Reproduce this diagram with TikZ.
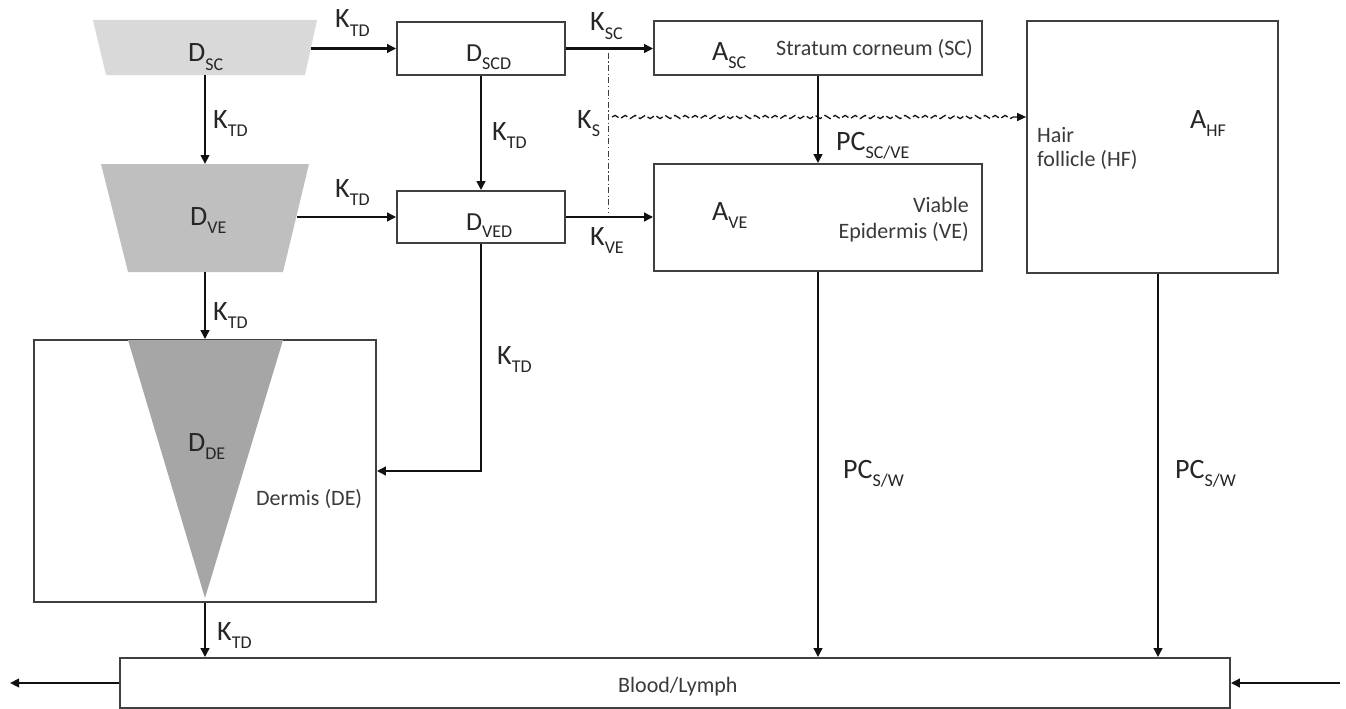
\documentclass[tikz,border=0pt]{standalone}
\usepackage{fontspec}
\setmainfont{Carlito}
\usetikzlibrary{arrows.meta,decorations.pathmorphing}
\definecolor{lc}{HTML}{111111}
\definecolor{bc}{HTML}{404040}
\definecolor{tc}{HTML}{262626}
\definecolor{sc}{HTML}{3A3A3A}
\definecolor{gA}{HTML}{D9D9D9}
\definecolor{gB}{HTML}{BFBFBF}
\definecolor{gC}{HTML}{A6A6A6}
\newcommand{\sbs}[1]{\raisebox{-0.3em}{\fontsize{18}{18}\selectfont #1}}
\newcommand{\fbig}{\fontsize{28}{30}\selectfont}
\newcommand{\fmid}{\fontsize{26}{28}\selectfont}
\newcommand{\fsml}{\fontsize{22}{27}\selectfont}
\tikzset{
  box/.style={draw=bc, line width=1.7pt, fill=white, inner sep=0pt},
  arr/.style={draw=lc, line width=2.4pt, -{Triangle[length=9pt,width=8.5pt]}},
  lbl/.style={anchor=base west, inner sep=0pt, text=tc, font=\fbig},
  lblm/.style={anchor=base west, inner sep=0pt, text=tc, font=\fmid},
  txt/.style={inner sep=0pt, text=sc, font=\fsml},
}
\begin{document}
\begin{tikzpicture}[x=1pt,y=-1pt]
\useasboundingbox[fill=white] (0,0) rectangle (1346,709);
% shaded compartments
\fill[gA] (93,20) -- (317,20) -- (305,75) -- (106,75) -- cycle;
\fill[gB] (101,164) -- (309,164) -- (283,272) -- (128,272) -- cycle;
% boxes
\node[box, minimum width=342pt, minimum height=262pt] (DE) at (205,471) {};
\fill[gC] (128,340) -- (283,340) -- (205,598) -- cycle;
\node[box, minimum width=168pt, minimum height=53pt] (SCD) at (481,48.5) {};
\node[box, minimum width=168pt, minimum height=52pt] (VED) at (481,217) {};
\node[box, minimum width=328pt, minimum height=54pt] (ASC) at (818,48) {};
\node[box, minimum width=328pt, minimum height=107pt] (AVE) at (818,217.5) {};
\node[box, minimum width=251pt, minimum height=252pt] (HF) at (1152.5,147) {};
\node[box, minimum width=1110pt, minimum height=50pt] (BL) at (675,683) {};
% anchor coordinates on shaded shapes
\coordinate (DSCr) at (311,48.5);
\coordinate (DSCb) at (205,75);
\coordinate (DVEt) at (205,164);
\coordinate (DVEr) at (297,217);
\coordinate (DVEb) at (205,272);
\coordinate (lout) at (10,683);
\coordinate (rin) at (1340,683);
\coordinate (dd1) at (608,53);
\coordinate (dd2) at (608,212);
\coordinate (ws) at (612,117);
% connectors
\draw[arr] (DSCr) -- (SCD.west);
\draw[arr] (DSCb) -- (DVEt);
\draw[arr] (DVEr) -- (VED.west);
\draw[arr] (DVEb) -- (DE.north);
\draw[arr] (DE.south) -- (DE.south |- BL.north);
\draw[arr] (SCD.south) -- (VED.north);
\draw[arr] (VED.south) -- (VED.south |- DE.east) -- (DE.east);
\draw[arr] (SCD.east) -- (ASC.west |- SCD.east);
\draw[arr] (VED.east) -- (AVE.west |- VED.east);
\draw[arr] (ASC.south) -- (AVE.north);
\draw[arr] (AVE.south) -- (AVE.south |- BL.north);
\draw[arr] ([xshift=5.5pt]HF.south) -- ([xshift=5.5pt]HF.south |- BL.north);
\draw[arr] (BL.west) -- (lout);
\draw[arr] (rin) -- (BL.east);
\draw[bc, line width=1pt, dash pattern=on 6pt off 2.5pt on 1.2pt off 2.5pt] (dd1) -- (dd2);
\draw[lc, line width=1.3pt, decorate, decoration={snake, segment length=10pt, amplitude=1.6pt, post length=8pt}, dash pattern=on 7.5pt off 3pt, -{Triangle[length=9pt,width=8pt]}] (ws) -- (ws -| HF.west);
% rate labels
\node[lbl] (k1) at (335,28) {K\sbs{TD}};
\node[lbl] (k2) at (213,128) {K\sbs{TD}};
\node[lbl] (k3) at (335,197) {K\sbs{TD}};
\node[lbl] (k4) at (213,320) {K\sbs{TD}};
\node[lbl] (k5) at (217,640) {K\sbs{TD}};
\node[lbl] (k6) at (492,140) {K\sbs{TD}};
\node[lbl] (k7) at (497,364) {K\sbs{TD}};
\node[lbl] (ksc) at (590,31) {K\sbs{SC}};
\node[lbl] (ks) at (577,128) {K\sbs{S}};
\node[lbl] (kve) at (590,245) {K\sbs{VE}};
\node[lbl] (pc1) at (836,150) {PC\sbs{SC/VE}};
\node[lbl] (pc2) at (843,478) {PC\sbs{S/W}};
\node[lbl] (pc3) at (1175,478) {PC\sbs{S/W}};
% compartment labels
\node[lbl] (tdsc) at (188,62) {D\sbs{SC}};
\node[lbl] (tdve) at (190,225) {D\sbs{VE}};
\node[lbl] (tdde) at (188,451) {D\sbs{DE}};
\node[lblm] (tscd) at (466,62) {D\sbs{SCD}};
\node[lblm] (tved) at (466,230) {D\sbs{VED}};
\node[lbl] (tasc) at (712,60) {A\sbs{SC}};
\node[lbl] (tave) at (712,220) {A\sbs{VE}};
\node[lbl] (tahf) at (1190,128) {A\sbs{HF}};
% region names
\node[txt, anchor=base west] (nsc) at (776,56) {Stratum corneum (SC)};
\node[txt, anchor=base east] (nve1) at (969,212) {Viable};
\node[txt, anchor=base east] (nve2) at (969,238) {Epidermis (VE)};
\node[txt, anchor=base west] (nhf1) at (1037,142) {Hair};
\node[txt, anchor=base west] (nhf2) at (1037,166) {follicle (HF)};
\node[txt, anchor=base west] (nde) at (256,505) {Dermis (DE)};
\node[txt, anchor=base west] (nbl) at (618,692) {Blood/Lymph};
\end{tikzpicture}
\end{document}
